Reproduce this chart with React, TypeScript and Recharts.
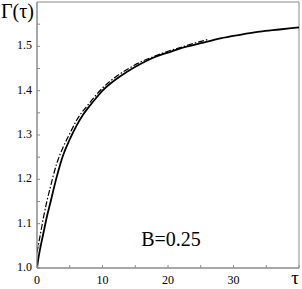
import React from 'react';
import { LineChart, Line, XAxis, YAxis, ReferenceArea, Customized } from 'recharts';

// solid curve
const solidTau = [0, 0.25, 0.5, 1, 1.5, 2, 3, 4, 5, 6, 7, 8, 9, 10, 12, 14, 16, 18, 20, 22, 25, 28, 31, 34, 37, 40];
const solidGamma = [1.0, 1.025, 1.045, 1.08, 1.115, 1.145, 1.205, 1.255, 1.29, 1.32, 1.345, 1.365, 1.383, 1.4, 1.425, 1.445, 1.462, 1.476, 1.486, 1.496, 1.507, 1.518, 1.526, 1.533, 1.538, 1.543];

// dash-dot curve
const dashTau = [0, 0.5, 1, 1.5, 2, 3, 4, 5, 6, 8, 10, 12, 14, 16, 18, 20, 22, 24, 26];
const dashGamma = [1.035, 1.075, 1.115, 1.15, 1.18, 1.235, 1.273, 1.303, 1.332, 1.372, 1.406, 1.431, 1.45, 1.466, 1.478, 1.489, 1.498, 1.507, 1.515];

const xTicks = [0, 5, 10, 15, 20, 25, 30, 35, 40];
const xLabels = ['0', '', '10', '', '20', '', '30', '', 'τ'];
const yTicks = [1.0, 1.05, 1.1, 1.15, 1.2, 1.25, 1.3, 1.35, 1.4, 1.45, 1.5, 1.55];
const yLabels = ['1.0', '', '1.1', '', '1.2', '', '1.3', '', '1.4', '', '1.5', ''];

const solidData = solidTau.map((t, i) => ({ t, g: solidGamma[i] }));
const dashData = dashTau.map((t, i) => ({ t, g: dashGamma[i] }));

const AXIS = '#8a8a8a';
const FONT = 'Times New Roman, Times, Liberation Serif, DejaVu Serif, serif';

const XTick = (props: any) => {
  const { x, y, index } = props;
  const label = xLabels[index] ?? '';
  const isTau = label === 'τ';
  return (
    <g>
      <line x1={x} y1={y} x2={x} y2={y - 3} stroke={AXIS} />
      {label && (
        <text x={isTau ? x - 4 : x} y={y + 16} textAnchor="middle" style={{ fontFamily: FONT, fontSize: isTau ? 19 : 12 }} fill="#000">
          {label}
        </text>
      )}
    </g>
  );
};

const YTick = (props: any) => {
  const { x, y, index } = props;
  const label = yLabels[index] ?? '';
  return (
    <g>
      <line x1={x} y1={y} x2={x + 3} y2={y} stroke={AXIS} />
      {label && (
        <text x={x - 5} y={y + 3} textAnchor="end" style={{ fontFamily: FONT, fontSize: 12 }} fill="#000">
          {label}
        </text>
      )}
    </g>
  );
};

export default function App() {
  return (
    <div style={{ position: 'absolute', left: 0, top: 0, width: 302, height: 289, background: '#fff', fontFamily: FONT }}>
      <LineChart width={302} height={289} margin={{ top: 2, right: 3, bottom: 0, left: 0 }} style={{ fontFamily: FONT }}>
        <XAxis
          dataKey="t"
          type="number"
          domain={[0, 40]}
          ticks={xTicks}
          height={21}
          tickSize={0}
          tickMargin={0}
          tickLine={false}
          axisLine={{ stroke: AXIS }}
          tick={<XTick />}
          interval={0}
          allowDataOverflow
        />
        <YAxis
          type="number"
          domain={[1.0, 1.6]}
          ticks={yTicks}
          width={37}
          tickSize={0}
          tickMargin={0}
          tickLine={false}
          axisLine={{ stroke: AXIS }}
          tick={<YTick />}
          interval={0}
          allowDataOverflow
        />
        <ReferenceArea x1={0} x2={40} y1={1.0} y2={1.6} fill="none" stroke={AXIS} strokeWidth={1} />
        <Line
          data={dashData}
          dataKey="g"
          type="monotone"
          stroke="#000"
          strokeWidth={1.2}
          strokeDasharray="6 2 1.5 2"
          dot={false}
          isAnimationActive={false}
        />
        <Line
          data={solidData}
          dataKey="g"
          type="monotone"
          stroke="#000"
          strokeWidth={1.8}
          dot={false}
          isAnimationActive={false}
        />
        <Customized
          component={() => (
            <g>
              <text x={1} y={18} style={{ fontFamily: FONT, fontSize: 20 }} fill="#000">Γ(τ)</text>
              <text x={171} y={246} textAnchor="middle" style={{ fontFamily: FONT, fontSize: 20 }} fill="#000">B=0.25</text>
            </g>
          )}
        />
      </LineChart>
    </div>
  );
}
